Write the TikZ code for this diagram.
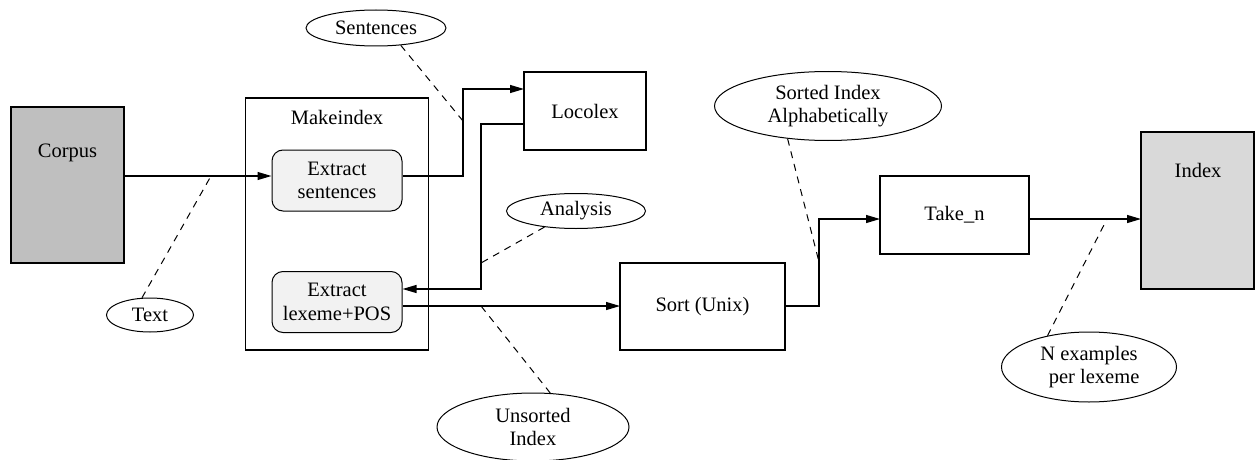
\documentclass[tikz,border=0pt]{standalone}
\usepackage{fontspec}
\setmainfont{Liberation Serif}
\usetikzlibrary{shapes.geometric,arrows.meta}
\begin{document}
\begin{tikzpicture}[x=1pt,y=-1pt,
  font=\fontsize{20.5}{23.5}\selectfont,
  box/.style={draw,line width=1.6pt,rectangle,inner sep=0pt,outer sep=0pt},
  stage/.style={draw,line width=1pt,rounded corners=11pt,fill=black!5,
    minimum width=130pt,minimum height=61pt,inner sep=0pt,align=center},
  note/.style={draw,ellipse,line width=1pt,inner sep=0pt,align=center},
  conn/.style={line width=1.2pt},
  arr/.style={conn,-{Triangle[length=14pt,width=8pt]}},
  leader/.style={line width=1pt,dash pattern=on 7pt off 6pt}]
\useasboundingbox (0,0) rectangle (1255,460);

% data stores
\node[box,fill=black!25,minimum width=113pt,minimum height=156pt] (corpus) at (67.5,185) {};
\node (corpuslbl) at (67.5,153) {Corpus};
\node[box,fill=black!15,minimum width=113pt,minimum height=157pt] (index) at (1197.5,210.5) {};
\node (indexlbl) at (1198,170) {Index};

% Makeindex container with its two stages
\node[box,minimum width=183pt,minimum height=252pt] (mk) at (337,224) {};
\node (mklbl) at (337,117) {Makeindex};
\node[stage] (es) at (337,180.5) {Extract\\sentences};
\node[stage] (el) at (337,302) {Extract\\lexeme+POS};

% processing boxes
\node[box,minimum width=122pt,minimum height=78pt] (loc) at (585,111) {Locolex};
\node[box,minimum width=165pt,minimum height=87pt] (sort) at (702.5,306.5) {Sort (Unix)};
\node[box,minimum width=149pt,minimum height=78pt] (take) at (954.5,215) {Take\_n};

% annotations
\node[note,minimum width=87pt,minimum height=34pt] (ntext) at (150,315) {Text};
\node[note,minimum width=140pt,minimum height=36pt] (nsent) at (376,28) {Sentences};
\node[note,minimum width=139pt,minimum height=35pt] (nana) at (576,211) {Analysis};
\node[note,minimum width=192pt,minimum height=68pt] (nuns) at (533,427) {Unsorted\\Index};
\node[note,minimum width=227pt,minimum height=69pt] (nsorted) at (828,106) {Sorted Index\\Alphabetically};
\node[note,minimum width=175pt,minimum height=70pt] (nn) at (1089,367) {N examples\\\ \ per lexeme};

% routing rows and columns
\coordinate (r1) at (0,176);
\coordinate (r2) at (0,89);
\coordinate (r3) at (0,124);
\coordinate (r4) at (0,289);
\coordinate (r5) at (0,306);
\coordinate (r6) at (0,219);
\coordinate (c1) at (463,0);
\coordinate (c2) at (481,0);
\coordinate (c3) at (819,0);

% data flow
\draw[arr] (corpus.east |- r1) -- (es.west |- r1);
\draw[arr] (es.east |- r1) -- (c1 |- r1) -- (c1 |- r2) -- (loc.west |- r2);
\draw[arr] (loc.west |- r3) -- (c2 |- r3) -- (c2 |- r4) -- (el.east |- r4);
\draw[arr] (el.east |- r5) -- (sort.west |- r5);
\draw[arr] (sort.east |- r5) -- (c3 |- r5) -- (c3 |- r6) -- (take.west |- r6);
\draw[arr] (take.east |- r6) -- (index.west |- r6);

% points on the flow that the annotations refer to
\coordinate (dText) at (211,176);
\coordinate (dSent) at (463,121);
\coordinate (dAna) at (481,263);
\coordinate (dUns) at (481,306);
\coordinate (dSort) at (819,262);
\coordinate (dN) at (1107,219);

\draw[leader] (ntext.115) -- (dText);
\draw[leader] (nsent.-35) -- (dSent);
\draw[leader] (nana.-153) -- (dAna);
\draw[leader] (nuns.63) -- (dUns);
\draw[leader] (nsorted.-141) -- (dSort);
\draw[leader] (nn.143) -- (dN);
\end{tikzpicture}
\end{document}
